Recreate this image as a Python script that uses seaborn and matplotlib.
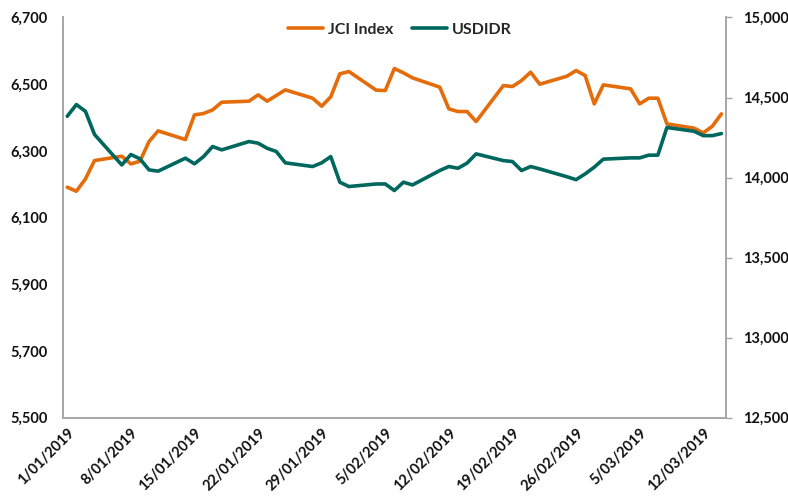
import pandas as pd
import matplotlib.pyplot as plt
import matplotlib.dates as mdates
from matplotlib.ticker import FuncFormatter
import seaborn as sns

# business days 1 Jan - 14 Mar 2019
dates = pd.bdate_range("2019-01-01", "2019-03-14")

jci = [6191, 6179, 6216, 6271, 6284, 6261, 6269, 6328, 6360, 6334, 6408, 6412,
       6423, 6446, 6449, 6468, 6449, 6466, 6483, 6458, 6434, 6462, 6531,
       6538, 6482, 6481, 6547, 6534, 6519, 6491, 6426, 6418, 6418, 6388, 6496,
       6493, 6511, 6536, 6500, 6524, 6541, 6526, 6441,
       6498, 6486, 6441, 6458, 6458, 6381, 6368, 6354, 6374, 6411]

usdidr = [14383, 14456, 14414, 14269, 14079, 14144, 14117, 14048, 14040, 14121,
          14086, 14131, 14194, 14173, 14225, 14215, 14183, 14163, 14092, 14069,
          14092, 14131, 13971,
          13944, 13960, 13960, 13919, 13971, 13954, 14044, 14069, 14058, 14090,
          14148, 14106, 14100, 14044, 14069, 14054, 14005, 13987, 14023, 14065,
          14115, 14123, 14123, 14140, 14140, 14313, 14289, 14262, 14262, 14275]

tick_dates = pd.date_range("2019-01-01", "2019-03-12", freq="7D")
tick_labels = ["1/01/2019", "8/01/2019", "15/01/2019", "22/01/2019", "29/01/2019",
               "5/02/2019", "12/02/2019", "19/02/2019", "26/02/2019", "5/03/2019",
               "12/03/2019"]

df = pd.DataFrame({"date": dates, "jci": jci, "usdidr": usdidr})

orange = "#E46C0A"
teal = "#00675E"
grey = "#A6A6A6"

sns.set_style("white")
plt.rcParams["font.family"] = ["Lato", "DejaVu Sans"]

fig = plt.figure(figsize=(7.88, 4.97), dpi=100)
ax = fig.add_axes([0.0796, 0.1596, 0.8417, 0.8052])
ax2 = ax.twinx()

sns.lineplot(data=df, x="date", y="jci", ax=ax, color=orange, linewidth=2.6, label="JCI Index", legend=False)
sns.lineplot(data=df, x="date", y="usdidr", ax=ax2, color=teal, linewidth=2.6, label="USDIDR", legend=False)

ax.set_xlim(dates[0] - pd.Timedelta(hours=12), dates[-1] + pd.Timedelta(hours=12))
ax.set_ylim(5500, 6700)
ax2.set_ylim(12500, 15000)
ax.set_yticks(range(5500, 6701, 200))
ax2.set_yticks(range(12500, 15001, 500))
fmt = FuncFormatter(lambda v, p: f"{v:,.0f}")
ax.yaxis.set_major_formatter(fmt)
ax2.yaxis.set_major_formatter(fmt)

ax.set_xticks(tick_dates)
ax.set_xticklabels(tick_labels, rotation=45, ha="right", rotation_mode="anchor",
                   fontsize=10.5, fontweight="bold", color="#111111")
ax.tick_params(axis="x", length=0, pad=6)
ax.tick_params(axis="y", length=0, pad=11, labelsize=10.5, labelcolor="#111111")
ax2.tick_params(axis="y", length=4, width=1, color=grey, pad=8, labelsize=10.5, labelcolor="#111111")
for lab in ax.get_yticklabels() + ax2.get_yticklabels():
    lab.set_fontweight("bold")

ax.set_xlabel("")
ax.set_ylabel("")
ax2.set_ylabel("")
ax.grid(False)
ax2.grid(False)

for a in (ax, ax2):
    a.spines["top"].set_visible(False)
    for s in ("left", "right", "bottom"):
        a.spines[s].set_color(grey)
        a.spines[s].set_linewidth(1.2)

h1, l1 = ax.get_legend_handles_labels()
h2, l2 = ax2.get_legend_handles_labels()
ax2.legend(h1 + h2, l1 + l2, loc="center", bbox_to_anchor=(0.508, 0.969), ncol=2,
           frameon=False, handlelength=2.2, columnspacing=1.2, handletextpad=0.3,
           prop={"weight": "bold", "size": 11.5})

fig.savefig("out.png", dpi=100)
